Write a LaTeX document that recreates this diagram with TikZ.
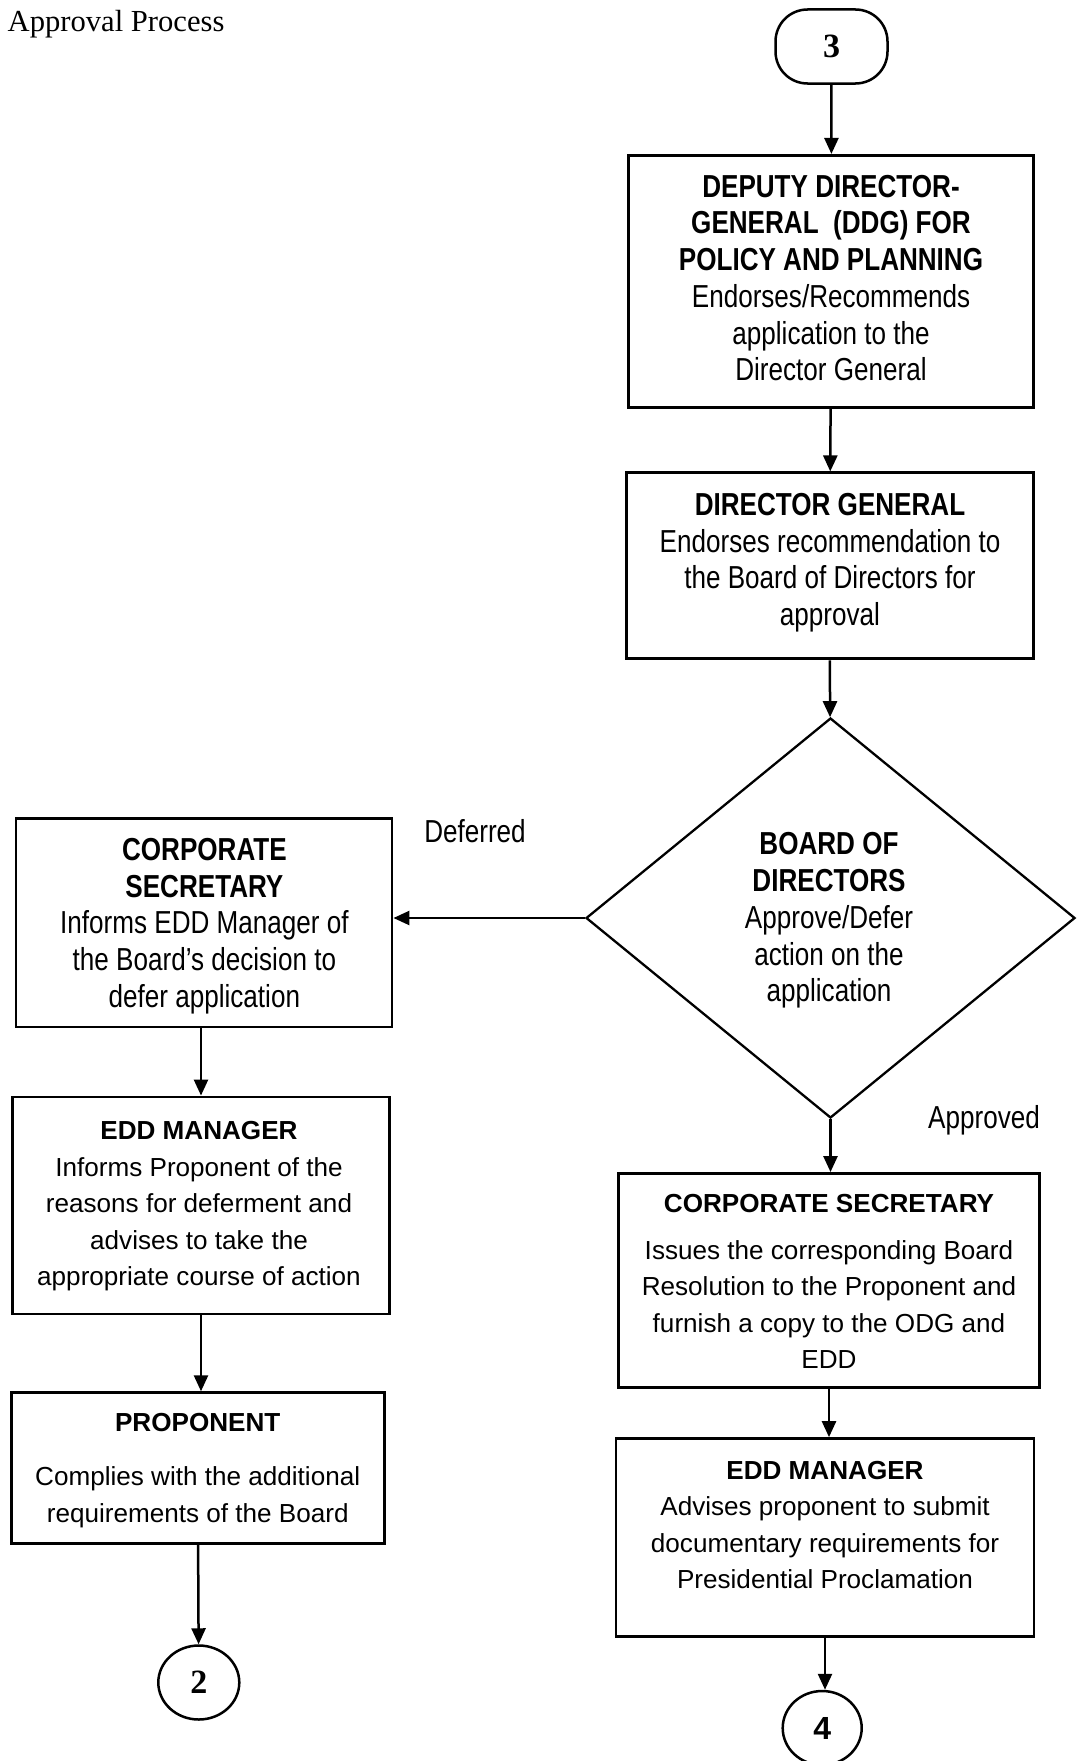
\documentclass[tikz,border=0pt]{standalone}
\usepackage{fontspec}
\setmainfont{Liberation Sans}
\newfontfamily\narrowsans{Liberation Sans}[FakeStretch=0.82]
\newfontfamily\titleserif{Liberation Serif}
\usetikzlibrary{arrows.meta,shapes.geometric}

\begin{document}
\begin{tikzpicture}[x=1pt,y=-1pt,
  box/.style={draw, line width=2.9pt, inner sep=0pt},
  narrowtxt/.style={align=center, inner sep=0pt,
    font=\narrowsans\fontsize{31.8}{36.7}\selectfont},
  widetxt/.style={align=center, inner sep=0pt,
    font=\fontsize{26.1}{36.6}\selectfont},
  connector/.style={draw, line width=2.5pt, inner sep=0pt},
  arr/.style={-{Triangle[length=16pt,width=14pt]}, line width=2.5pt}]

% page
\fill[white] (0,0) rectangle (1076,1761);
\useasboundingbox (0,0) rectangle (1076,1761);

% heading
\node[anchor=base west, inner sep=0pt,
  font=\titleserif\fontsize{30.6}{30.6}\selectfont] (hdr) at (7.5,31.5) {Approval Process};

% connector symbols
\node[connector, rounded corners=32pt, minimum width=112pt, minimum height=74pt,
  font=\titleserif\bfseries\fontsize{34}{34}\selectfont] (t3) at (831.5,46.5) {3};
\node[connector, ellipse, minimum width=81pt, minimum height=74pt,
  font=\titleserif\bfseries\fontsize{34}{34}\selectfont] (c2) at (198.8,1682.5) {2};
\node[connector, ellipse, minimum width=79pt, minimum height=74pt,
  font=\bfseries\fontsize{32}{32}\selectfont] (c4) at (822.2,1728) {4};

% main column
\node[box, minimum width=405pt, minimum height=252pt] (ddg) at (831.3,281.4) {};
\node[narrowtxt] (ddgtxt) at (831,278) {\textbf{DEPUTY DIRECTOR-}\\\textbf{GENERAL\ \ (DDG) FOR}\\\textbf{POLICY AND PLANNING}\\Endorses/Recommends\\application to the\\Director General};

\node[box, minimum width=407pt, minimum height=186pt] (dg) at (829.7,565.9) {};
\node[narrowtxt] (dgtxt) at (830,562.8) {\textbf{DIRECTOR GENERAL}\\Endorses recommendation to\\the Board of Directors for\\approval};

\node[draw, diamond, line width=2.3pt, inner sep=0pt,
  minimum width=489pt, minimum height=400pt] (bod) at (830.5,918) {};
\node[narrowtxt] (bodtxt) at (829,920.5) {\textbf{BOARD OF}\\\textbf{DIRECTORS}\\Approve/Defer\\action on the\\application};

\node[box, minimum width=421pt, minimum height=214pt] (rcs) at (829,1280.5) {};
\node[widetxt] (rcstxt) at (829,1281.8) {\textbf{CORPORATE SECRETARY}\\[9.5pt]Issues the corresponding Board\\Resolution to the Proponent and\\furnish a copy to the ODG and\\EDD};

\node[box, minimum width=418pt, minimum height=198pt] (redd) at (825,1537.6) {};
\node[widetxt] (reddtxt) at (825,1525) {\textbf{EDD MANAGER}\\Advises proponent to submit\\documentary requirements for\\Presidential Proclamation};

% deferral column
\node[box, minimum width=376pt, minimum height=208.5pt] (lcs) at (204,922.7) {};
\node[narrowtxt] (lcstxt) at (204.4,925.9) {\textbf{CORPORATE}\\\textbf{SECRETARY}\\Informs EDD Manager of\\the Board’s decision to\\defer application};

\node[box, minimum width=377pt, minimum height=217pt] (ledd) at (201,1205.5) {};
\node[widetxt] (leddtxt) at (199,1206.2) {\textbf{EDD MANAGER}\\Informs Proponent of the\\reasons for deferment and\\advises to take the\\appropriate course of action};

\node[box, minimum width=373pt, minimum height=150.5pt] (prop) at (197.7,1468) {};
\node[widetxt] (proptxt) at (197.7,1470.7) {\textbf{PROPONENT}\\[17.5pt]Complies with the additional\\requirements of the Board};

% branch labels
\node[narrowtxt] (deflbl) at (475,831) {Deferred};
\node[narrowtxt] (applbl) at (984,1119.9) {Approved};

% flow
\draw[arr] (t3) -- (ddg);
\draw[arr] (ddg) -- (dg);
\draw[arr] (dg) -- (bod);
\draw[arr] (bod.west) -- (bod.west -| lcs.east);
\draw[arr] (ledd.north |- lcs.south) -- (ledd.north);
\draw[arr] (ledd.south) -- (ledd.south |- prop.north);
\draw[arr] (prop) -- (c2);
\draw[arr] (bod.south) -- (bod.south |- rcs.north);
\draw[arr] (rcs.south) -- (rcs.south |- redd.north);
\draw[arr] (redd.south) -- (redd.south |- c4.north);
\end{tikzpicture}
\end{document}
